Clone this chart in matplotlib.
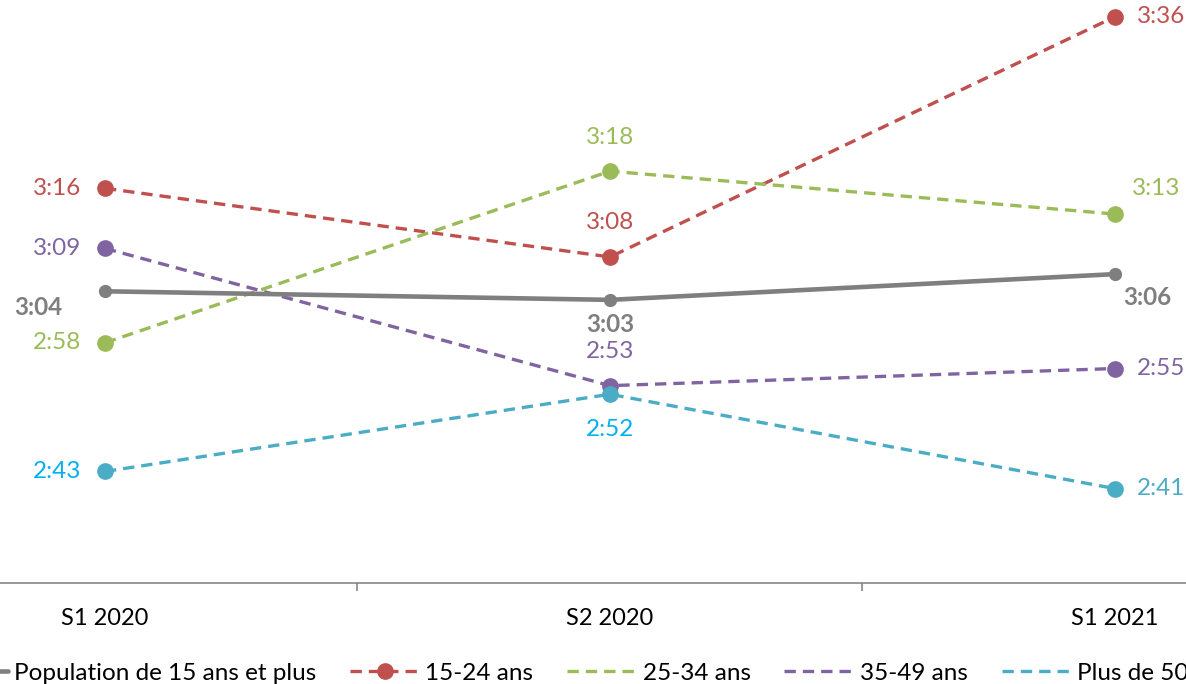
import matplotlib
matplotlib.use("Agg")
import matplotlib.pyplot as plt
from matplotlib.ticker import FixedLocator

plt.rcParams['font.family'] = ['Lato', 'DejaVu Sans']

# data (minutes of daily viewing)
periods = ["S1 2020", "S2 2020", "S1 2021"]
series_names = ["Population de 15 ans et plus", "15-24 ans", "25-34 ans",
                "35-49 ans", "Plus de 50 ans"]
pop_15plus = [184, 183, 186]
age_15_24 = [196, 188, 216]
age_25_34 = [178, 198, 193]
age_35_49 = [189, 173, 175]
age_50plus = [163, 172, 161]
all_series = [pop_15plus, age_15_24, age_25_34, age_35_49, age_50plus]

# styles
colors = ["#7f7f7f", "#c0504d", "#9bbb59", "#8064a2", "#4bacc6"]
label_colors = [
    ["#7f7f7f"] * 3,
    ["#c0504d"] * 3,
    ["#9bbb59"] * 3,
    ["#8064a2"] * 3,
    ["#00b0f0", "#00b0f0", "#4bacc6"],
]
# label offsets in pixels (dx, dy, ha)
offsets = [
    [(-43, -16, 'right'), (0, -25, 'center'), (8, -23, 'left')],
    [(-24, 0, 'right'), (0, 34, 'center'), (22, 0, 'left')],
    [(-24, 0, 'right'), (0, 34, 'center'), (17, 26, 'left')],
    [(-24, 0, 'right'), (0, 34, 'center'), (22, 0, 'left')],
    [(-24, 0, 'right'), (0, -35, 'center'), (22, 0, 'left')],
]
dash = (0, (3.4, 2.1))


def fmt(v):
    return f"{v // 60}:{v % 60:02d}"


W, H = 1186, 684
fig = plt.figure(figsize=(W / 100, H / 100), dpi=100)
# chart is cropped: plot area extends beyond the left/right/top edges
ax = fig.add_axes([-147.5 / W, (H - 583) / H, 1515 / W, 583 / H])
ax.set_xlim(-0.5, 2.5)
ax.set_ylim(150, 217.95)

x = list(range(len(periods)))
handles = []
for i, (name, vals) in enumerate(zip(series_names, all_series)):
    if i == 0:
        h, = ax.plot(x, vals, color=colors[i], lw=3.3, marker='o', ms=8.5,
                     solid_capstyle='round', label=name, zorder=5)
    else:
        h, = ax.plot(x, vals, color=colors[i], lw=2.4, ls=dash,
                     marker='o', ms=11, label=name, zorder=4)
    handles.append(h)
    for j, v in enumerate(vals):
        dx, dy, ha = offsets[i][j]
        ax.annotate(fmt(v), (j, v), xytext=(dx, dy), textcoords='offset pixels',
                    ha=ha, va='center', fontsize=17.5, color=label_colors[i][j],
                    fontweight='bold' if i == 0 else 'normal')

for s in ['left', 'right', 'top']:
    ax.spines[s].set_visible(False)
ax.spines['bottom'].set_color('#868686')
ax.spines['bottom'].set_linewidth(1.2)
ax.set_yticks([])
ax.xaxis.set_major_locator(FixedLocator([0.5, 1.5]))
ax.xaxis.set_minor_locator(FixedLocator(x))
ax.set_xticklabels([], minor=False)
ax.set_xticklabels(periods, minor=True, fontsize=17)
ax.tick_params(axis='x', which='minor', length=0, pad=18)
ax.tick_params(axis='x', which='major', length=6, color='#868686', width=1.2)

# legend: only first two entries show markers
leg_handles = []
for i, h in enumerate(handles):
    if i >= 2:
        h2, = ax.plot([], [], color=colors[i], lw=2.4, ls=dash)
        leg_handles.append(h2)
    else:
        leg_handles.append(h)
leg = fig.legend(leg_handles, series_names, ncol=5, loc='center left',
                 bbox_to_anchor=(-62 / W, (H - 673) / H), frameon=False,
                 fontsize=17.5, handlelength=2.9, handletextpad=0.22,
                 columnspacing=1.38, borderpad=0, borderaxespad=0)

fig.savefig("out.png", dpi=100)
